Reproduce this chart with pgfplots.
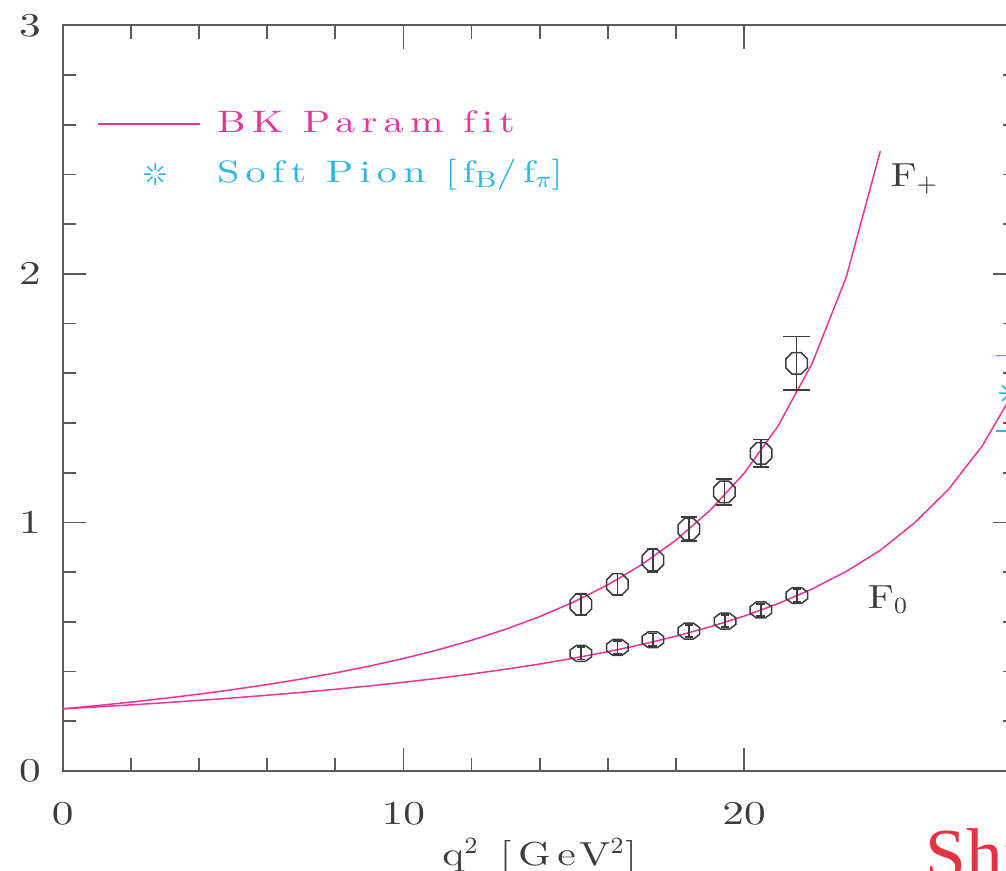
\documentclass[border=0pt]{standalone}
\usepackage{fontspec}
\usepackage{pgfplots}
\pgfplotsset{compat=1.18}
\usepackage{pgfplotstable}
\newfontfamily\shifont{Liberation Serif}
\newfontfamily\legfont{lmroman10-regular.otf}[FakeStretch=1.3, LetterSpace=20, Ligatures=NoCommon]
\newfontfamily\labfont{lmroman10-regular.otf}[FakeStretch=1.25, LetterSpace=20, Ligatures=NoCommon]
\newfontfamily\tickfont{lmroman10-regular.otf}[FakeStretch=1.3]
\newfontfamily\flabfont{lmroman10-regular.otf}[FakeStretch=1.2]

\definecolor{bkpink}{RGB}{236,52,152}
\definecolor{spcyan}{RGB}{45,182,232}
\definecolor{axgray}{RGB}{90,90,90}
\definecolor{datgray}{RGB}{60,60,60}
\definecolor{shired}{RGB}{230,50,65}

\pgfdeclareplotmark{octagon}{%
  \pgfpathmoveto{\pgfpointpolar{22.5}{\pgfplotmarksize}}%
  \pgfpathlineto{\pgfpointpolar{67.5}{\pgfplotmarksize}}%
  \pgfpathlineto{\pgfpointpolar{112.5}{\pgfplotmarksize}}%
  \pgfpathlineto{\pgfpointpolar{157.5}{\pgfplotmarksize}}%
  \pgfpathlineto{\pgfpointpolar{202.5}{\pgfplotmarksize}}%
  \pgfpathlineto{\pgfpointpolar{247.5}{\pgfplotmarksize}}%
  \pgfpathlineto{\pgfpointpolar{292.5}{\pgfplotmarksize}}%
  \pgfpathlineto{\pgfpointpolar{337.5}{\pgfplotmarksize}}%
  \pgfpathclose
  \pgfusepathqstroke
}
\pgfdeclareplotmark{spoke8}{%
  \pgfpathmoveto{\pgfpointpolar{0}{0.35\pgfplotmarksize}}\pgfpathlineto{\pgfpointpolar{0}{\pgfplotmarksize}}%
  \pgfpathmoveto{\pgfpointpolar{45}{0.35\pgfplotmarksize}}\pgfpathlineto{\pgfpointpolar{45}{\pgfplotmarksize}}%
  \pgfpathmoveto{\pgfpointpolar{90}{0.35\pgfplotmarksize}}\pgfpathlineto{\pgfpointpolar{90}{\pgfplotmarksize}}%
  \pgfpathmoveto{\pgfpointpolar{135}{0.35\pgfplotmarksize}}\pgfpathlineto{\pgfpointpolar{135}{\pgfplotmarksize}}%
  \pgfpathmoveto{\pgfpointpolar{180}{0.35\pgfplotmarksize}}\pgfpathlineto{\pgfpointpolar{180}{\pgfplotmarksize}}%
  \pgfpathmoveto{\pgfpointpolar{225}{0.35\pgfplotmarksize}}\pgfpathlineto{\pgfpointpolar{225}{\pgfplotmarksize}}%
  \pgfpathmoveto{\pgfpointpolar{270}{0.35\pgfplotmarksize}}\pgfpathlineto{\pgfpointpolar{270}{\pgfplotmarksize}}%
  \pgfpathmoveto{\pgfpointpolar{315}{0.35\pgfplotmarksize}}\pgfpathlineto{\pgfpointpolar{315}{\pgfplotmarksize}}%
  \pgfusepathqstroke
}

% BK fit curves
\pgfplotstableread{
x y
0 0.2500
1 0.2630
2 0.2771
3 0.2924
4 0.3092
5 0.3275
6 0.3477
7 0.3699
8 0.3945
9 0.4219
10 0.4525
11 0.4869
12 0.5258
13 0.5701
14 0.6210
15 0.6800
16 0.7490
17 0.8306
18 0.9288
19 1.0485
20 1.1978
21 1.3887
22 1.6406
23 1.9877
24 2.4950
}\fpluscurve

\pgfplotstableread{
x y
0 0.2500
1 0.2577
2 0.2659
3 0.2747
4 0.2840
5 0.2940
6 0.3047
7 0.3163
8 0.3287
9 0.3422
10 0.3568
11 0.3728
12 0.3902
13 0.4093
14 0.4304
15 0.4538
16 0.4799
17 0.5091
18 0.5422
19 0.5799
20 0.6231
21 0.6734
22 0.7325
23 0.8029
24 0.8883
25 0.9980
26 1.1330
27 1.3100
28 1.5460
}\fzerocurve

% lattice data F+
\pgfplotstableread{
x y e
15.21 0.670 0.042
16.28 0.751 0.043
17.32 0.848 0.047
}\fplusA
\pgfplotstableread{
x y e
18.38 0.973 0.049
19.42 1.123 0.053
20.50 1.278 0.056
}\fplusB
\pgfplotstableread{
x y e
21.54 1.640 0.108
}\fplusC
% lattice data F0
\pgfplotstableread{
x y e
15.21 0.473 0.025
16.28 0.497 0.025
17.32 0.528 0.025
18.38 0.563 0.025
19.44 0.603 0.025
20.49 0.648 0.025
21.55 0.706 0.025
}\fzero
% soft pion
\pgfplotstableread{
x y e
27.80 1.520 0.151
}\softpion

\begin{document}
\begin{tikzpicture}
\path[use as bounding box] (-18.8pt,-30pt) rectangle (283.0pt,231.3pt);
\begin{axis}[
  scale only axis, width=286.2pt, height=223.7pt,
  xmin=0, xmax=28, ymin=0, ymax=3,
  xtick={0,10,20}, ytick={0,1,2,3},
  minor x tick num=4, minor y tick num=4,
  major tick length=7pt, minor tick length=4pt,
  axis line style={axgray, line width=0.55pt},
  every tick/.append style={axgray, line width=0.5pt},
  tick label style={font=\fontsize{10}{12}\tickfont, text=datgray},
  /pgf/number format/assume math mode=true,
  xticklabel style={yshift=-6pt},
  yticklabel style={xshift=-3pt},
  xlabel={q$^{2}$ [GeV$^{2}$]},
  xlabel style={at={(axis description cs:0.5,0)}, anchor=north, yshift=-16.8pt, text=datgray, font=\fontsize{10}{12}\labfont},
  clip=false,
  legend cell align=left,
  legend style={draw=none, fill=none, at={(axis cs:1.007,2.502)}, anchor=west,
    inner sep=0pt, row sep=6pt, column sep=4.8pt,
    nodes={inner sep=0pt, text height=7pt, text depth=2pt,
      font=\fontsize{9.3}{11}\legfont}},
]
\addplot[bkpink, line width=0.45pt,
  legend image code/.code={\draw[bkpink, line width=0.45pt] (0pt,0pt) -- (30.6pt,0pt);}]
  table[x=x, y=y] {\fpluscurve};
\addlegendentry[text=bkpink]{BK Param fit}

\addplot[only marks, spcyan, mark=spoke8, mark size=3.3pt, mark options={line width=0.45pt},
  legend image code/.code={\draw[spcyan, line width=0.45pt] plot[mark=spoke8, mark size=3.3pt] coordinates {(17pt,0pt)};},
  error bars/.cd, y dir=both, y explicit,
  error mark options={rotate=90, spcyan, mark size=4.1pt, line width=0.5pt},
  error bar style={spcyan, line width=0.5pt}]
  table[x=x, y=y, y error=e] {\softpion};
\addlegendentry[text=spcyan]{Soft Pion [f\raisebox{-0.4ex}{\fontsize{7}{8}\selectfont B}/f\raisebox{-0.4ex}{\fontsize{7}{8}\selectfont$\pi$}]}

\addplot[bkpink, line width=0.45pt, forget plot] table[x=x, y=y] {\fzerocurve};

\addplot[only marks, datgray, mark=octagon, mark size=3.5pt, mark options={line width=0.45pt}, forget plot,
  error bars/.cd, y dir=both, y explicit,
  error mark options={rotate=90, datgray, mark size=1.7pt, line width=0.5pt},
  error bar style={datgray, line width=0.5pt}]
  table[x=x, y=y, y error=e] {\fplusA};
\addplot[only marks, datgray, mark=octagon, mark size=3.5pt, mark options={line width=0.45pt}, forget plot,
  error bars/.cd, y dir=both, y explicit,
  error mark options={rotate=90, datgray, mark size=2.4pt, line width=0.5pt},
  error bar style={datgray, line width=0.5pt}]
  table[x=x, y=y, y error=e] {\fplusB};
\addplot[only marks, datgray, mark=octagon, mark size=3.5pt, mark options={line width=0.45pt}, forget plot,
  error bars/.cd, y dir=both, y explicit,
  error mark options={rotate=90, datgray, mark size=4.1pt, line width=0.5pt},
  error bar style={datgray, line width=0.5pt}]
  table[x=x, y=y, y error=e] {\fplusC};
\addplot[only marks, datgray, mark=octagon, mark size=3.5pt, mark options={line width=0.45pt, yscale=0.74}, forget plot,
  error bars/.cd, y dir=both, y explicit,
  error mark options={rotate=90, datgray, mark size=1.3pt, line width=0.5pt},
  error bar style={datgray, line width=0.5pt}]
  table[x=x, y=y, y error=e] {\fzero};

\node[anchor=base west, inner sep=0pt, text=datgray, font=\fontsize{10}{12}\flabfont] at (axis cs:24.28,2.353) {F$_{+}$};
\node[anchor=base west, inner sep=0pt, text=datgray, font=\fontsize{10}{12}\flabfont] at (axis cs:23.61,0.655) {F$_{0}$};
\node[anchor=north west, inner sep=0pt, text=shired, font=\shifont\fontsize{22}{22}\selectfont] at (axis cs:25.31,-0.23) {Shi};
\end{axis}
\end{tikzpicture}
\end{document}
